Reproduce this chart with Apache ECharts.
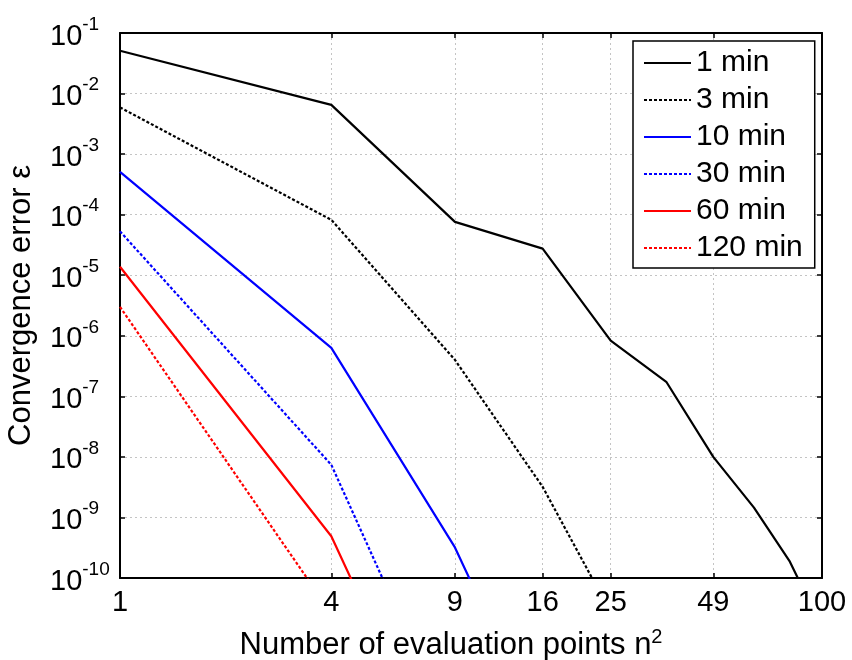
<!DOCTYPE html>
<html>
<head>
<meta charset="utf-8">
<script src="https://cdn.jsdelivr.net/npm/echarts@6/dist/echarts.min.js"></script>
<style>html,body{margin:0;padding:0;background:#fff}#c{width:852px;height:660px}</style>
</head>
<body>
<div id="c"></div>
<script>
// ---- data ----
const xValues = [1, 4, 9, 16, 25, 36, 49, 64, 81, 100];
const xTicks = [1, 4, 9, 16, 25, 49, 100];
const yTicks = [1e-10, 1e-9, 1e-8, 1e-7, 1e-6, 1e-5, 1e-4, 1e-3, 1e-2, 1e-1];
const seriesNames = ['1 min', '3 min', '10 min', '30 min', '60 min', '120 min'];
const err1min = [5.1e-2, 6.5e-3, 7.6e-5, 2.75e-5, 8.3e-7, 1.74e-7, 1.0e-8, 1.45e-9, 1.86e-10, 1.5e-11];
const err3min = [5.9e-3, 8.2e-5, 4.0e-7, 3.2e-9, 2.7e-11];
const err10min = [5.1e-4, 6.3e-7, 3.2e-10, 2.5e-13];
const err30min = [5.3e-5, 7.4e-9, 2.2e-13];
const err60min = [1.38e-5, 4.9e-10, 1.9e-14];
const err120min = [3.0e-6, 2.6e-11];

const seriesValues = [err1min, err3min, err10min, err30min, err60min, err120min];
const seriesColors = ['#000000', '#000000', '#0000ff', '#0000ff', '#ff0000', '#ff0000'];
const seriesDashed = [false, true, false, true, false, true];

const FONT = '"Liberation Sans", Arial, sans-serif';

const chart = echarts.init(document.getElementById('c'), null, {renderer: 'canvas'});

const series = seriesNames.map((name, i) => ({
  name: name,
  type: 'line',
  xAxisIndex: 0,
  yAxisIndex: 0,
  data: seriesValues[i].map((v, k) => [xValues[k], v]),
  symbol: 'none',
  showSymbol: false,
  clip: true,
  animation: false,
  lineStyle: {
    color: seriesColors[i],
    width: 2.2,
    type: seriesDashed[i] ? [3, 2] : 'solid'
  },
  itemStyle: {color: seriesColors[i]}
}));

const gridLine = {show: true, lineStyle: {color: '#c4c4c4', width: 1, type: [2, 3]}};
const axisLineStyle = {show: true, onZero: false, lineStyle: {color: '#000', width: 2}};

chart.setOption({
  animation: false,
  backgroundColor: '#fff',
  grid: {left: 120, top: 33, right: 30, bottom: 82, containLabel: false, outerBoundsMode: 'none'},
  legend: {
    show: true,
    data: seriesNames,
    orient: 'vertical',
    left: 633,
    top: 41,
    padding: [7, 12, 5, 10],
    itemWidth: 47,
    itemHeight: 30,
    itemGap: 7,
    backgroundColor: '#fff',
    borderColor: '#000',
    borderWidth: 1.5,
    borderRadius: 0,
    itemStyle: {opacity: 0},
    lineStyle: {width: 2},
    textStyle: {fontFamily: FONT, fontSize: 30, color: '#000', lineHeight: 30}
  },
  xAxis: [{
    type: 'log',
    logBase: 10,
    min: 1,
    max: 100,
    position: 'bottom',
    name: 'Number of evaluation points n{sup|2}',
    nameLocation: 'middle',
    nameGap: 49,
    nameTextStyle: {
      fontFamily: FONT, fontSize: 31, color: '#000', lineHeight: 36,
      padding: [0, 40, 0, 0],
      rich: {sup: {fontFamily: FONT, fontSize: 20, color: '#000', verticalAlign: 'top', lineHeight: 14}}
    },
    axisLine: axisLineStyle,
    axisTick: {show: true, inside: true, length: 5, customValues: xTicks, lineStyle: {color: '#000', width: 1.5}},
    axisLabel: {show: true, customValues: xTicks, margin: 10, fontFamily: FONT, fontSize: 29, color: '#000',
      formatter: v => String(Math.round(v))},
    splitLine: gridLine,
    minorTick: {show: false},
    minorSplitLine: {show: false}
  }, {
    type: 'log',
    logBase: 10,
    min: 1,
    max: 100,
    position: 'top',
    axisLine: axisLineStyle,
    axisTick: {show: true, inside: true, length: 5, customValues: xTicks, lineStyle: {color: '#000', width: 1.5}},
    axisLabel: {show: false, customValues: xTicks},
    splitLine: {show: false}
  }],
  yAxis: [{
    type: 'log',
    logBase: 10,
    min: 1e-10,
    max: 1e-1,
    position: 'left',
    name: 'Convergence error ε',
    nameLocation: 'middle',
    nameGap: 75,
    nameRotate: 90,
    nameTextStyle: {fontFamily: FONT, fontSize: 31, color: '#000', lineHeight: 36},
    axisLine: axisLineStyle,
    axisTick: {show: true, inside: true, length: 5, customValues: yTicks, lineStyle: {color: '#000', width: 1.5}},
    axisLabel: {
      show: true,
      customValues: yTicks,
      margin: 70,
      align: 'left',
      formatter: v => '{b|10}{s|' + Math.round(Math.log10(v)) + '}',
      rich: {
        b: {fontFamily: FONT, fontSize: 29, color: '#000', lineHeight: 36, verticalAlign: 'bottom'},
        s: {fontFamily: FONT, fontSize: 19, color: '#000', lineHeight: 12, verticalAlign: 'top'}
      }
    },
    splitLine: gridLine,
    minorTick: {show: false},
    minorSplitLine: {show: false}
  }, {
    type: 'log',
    logBase: 10,
    min: 1e-10,
    max: 1e-1,
    position: 'right',
    axisLine: axisLineStyle,
    axisTick: {show: true, inside: true, length: 5, customValues: yTicks, lineStyle: {color: '#000', width: 1.5}},
    axisLabel: {show: false, customValues: yTicks},
    splitLine: {show: false}
  }],
  series: series
});
</script>
</body>
</html>
